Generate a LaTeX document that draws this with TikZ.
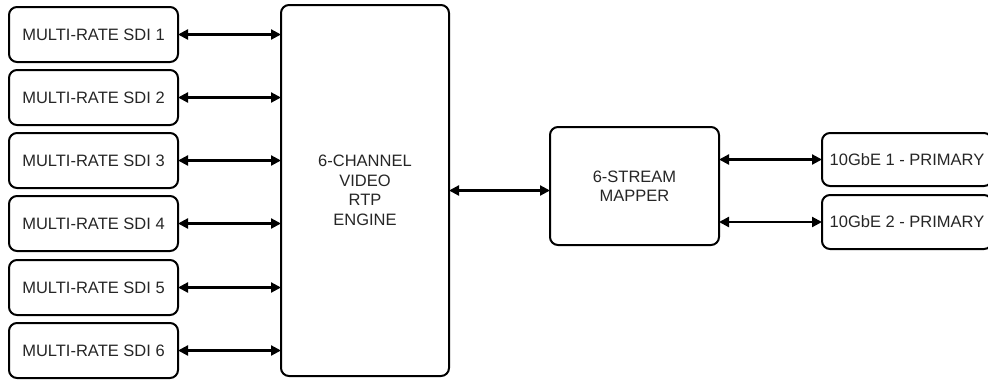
\documentclass[tikz,border=0pt]{standalone}
\usepackage{fontspec}
\setmainfont{Liberation Sans}
\usetikzlibrary{arrows.meta}
\definecolor{txt}{HTML}{262626}
\begin{document}
\begin{tikzpicture}[x=1bp,y=-1bp,
  box/.style={draw=black, line width=2bp, rounded corners=8bp, inner sep=0pt, outer sep=0pt,
    font=\fontsize{16.5bp}{19.5bp}\selectfont, text=txt, align=center},
  conn/.style={line width=2.2bp, {Triangle[length=10bp,width=10bp]}-{Triangle[length=10bp,width=10bp]}}]
\useasboundingbox (0,0) rectangle (988,379);
\foreach \i/\t in {1/7,2/70,3/133,4/196,5/260,6/323}{
  \node[box, minimum width=169bp, minimum height=55bp, anchor=north west] (sdi\i) at (9,\t) {MULTI-RATE SDI \i};
}
\node[box, minimum width=168bp, minimum height=371bp, anchor=north west] (eng) at (281,5) {6-CHANNEL\\VIDEO\\RTP\\ENGINE};
\node[box, minimum width=169bp, minimum height=118bp, anchor=north west] (map) at (550,127) {6-STREAM\\MAPPER};
\node[box, minimum width=170bp, minimum height=53bp, anchor=north west] (ge1) at (822,133) {10GbE 1 - PRIMARY};
\node[box, minimum width=170bp, minimum height=54bp, anchor=north west] (ge2) at (822,195) {10GbE 2 - PRIMARY};
\foreach \i in {1,...,6}{
  \draw[conn] (sdi\i.east) -- (sdi\i.east -| eng.west);
}
\draw[conn] (eng.east) -- (eng.east -| map.west);
\draw[conn] (ge1.west -| map.east) -- (ge1.west);
\draw[conn] (ge2.west -| map.east) -- (ge2.west);
\end{tikzpicture}
\end{document}
